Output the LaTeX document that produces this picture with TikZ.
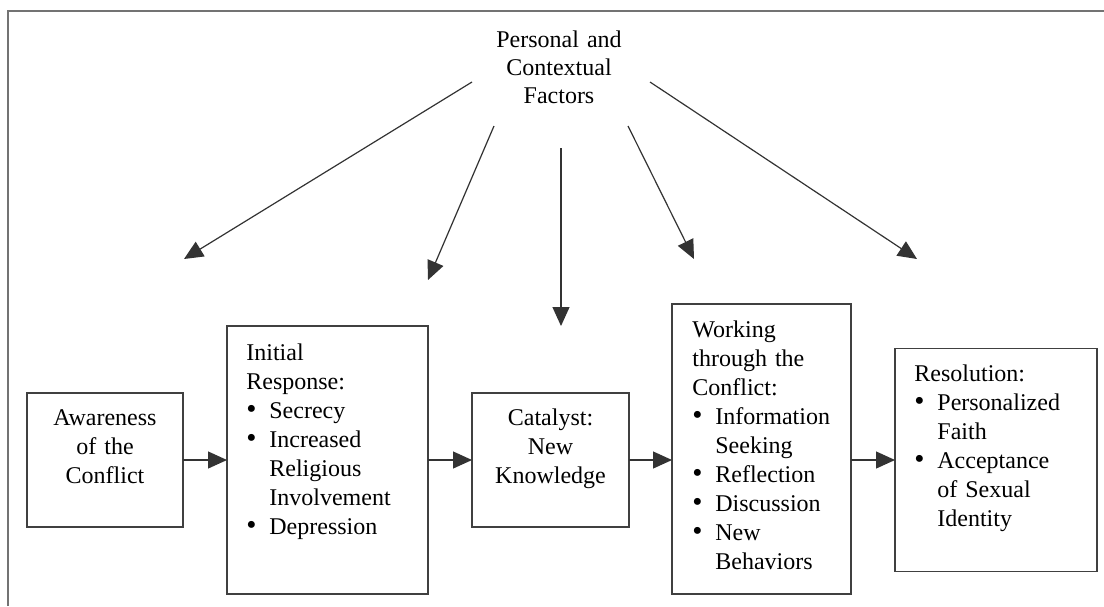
\documentclass[tikz,border=0pt]{standalone}
\usepackage{fontspec}
\setmainfont{Liberation Serif}
\usetikzlibrary{positioning,arrows.meta}

\newcommand{\bul}{\makebox[11.5pt][l]{\fontsize{14.5}{14.5}\selectfont\textbullet}}
\newcommand{\hang}{\hspace*{11.5pt}}

\tikzset{
  stage/.style={draw=black!75, line width=0.75pt, inner sep=0pt, outer sep=0pt},
  stagetext/.style={inner sep=0pt, font=\fontsize{12}{14.5}\selectfont},
  flow/.style={draw=black!80, line width=0.6pt, -{Triangle[length=9.5pt,width=8.5pt]}},
  frame/.style={draw=black!55, line width=1pt}
}

\begin{document}
\begin{tikzpicture}[x=0.5pt, y=-0.5pt]

  \useasboundingbox (0,0) rectangle (1104,606);
  \draw [frame] (8,606) |- (1104,11);

  \node (factors) [stagetext, font=\fontsize{12}{14}\selectfont, text width=80pt,
    align=center, anchor=base] at (559,47) {Personal and\\Contextual\\Factors};

  \node (aware) [stage, minimum width=78pt, minimum height=67pt] at (105,460) {};
  \node (init) [stage, minimum width=100.5pt, minimum height=134pt, right=22pt of aware] {};
  \node (cat) [stage, minimum width=78.5pt, minimum height=67pt, right=22pt of init] {};
  \node (work) [stage, minimum width=89.5pt, minimum height=145pt, right=21.5pt of cat, yshift=5.5pt] {};
  \node (res) [stage, minimum width=101pt, minimum height=111.5pt, right=22pt of work, yshift=-5.5pt] {};

  \node (awaretxt) [stagetext, text width=70pt, align=center, anchor=base]
    at ([yshift=-16pt]aware.north) {Awareness\\of the\\Conflict};
  \node (inittxt) [stagetext, text width=88pt, align=left, anchor=base west]
    at ([shift={(9.5pt,-17pt)}]init.north west)
    {Initial\\Response:\\\bul Secrecy\\\bul Increased\\\hang Religious\\\hang Involvement\\\bul Depression};
  \node (cattxt) [stagetext, text width=70pt, align=center, anchor=base]
    at ([yshift=-16pt]cat.north) {Catalyst:\\New\\Knowledge};
  \node (worktxt) [stagetext, text width=80pt, align=left, anchor=base west]
    at ([shift={(10pt,-16.5pt)}]work.north west)
    {Working\\through the\\Conflict:\\\bul Information\\\hang Seeking\\\bul Reflection\\\bul Discussion\\\bul New\\\hang Behaviors};
  \node (restxt) [stagetext, text width=90pt, align=left, anchor=base west]
    at ([shift={(9.5pt,-16.5pt)}]res.north west)
    {Resolution:\\\bul Personalized\\\hang Faith\\\bul Acceptance\\\hang of Sexual\\\hang Identity};

  % influence of the factors
  \coordinate (f1) at (472,82);
  \coordinate (f2) at (494,126);
  \coordinate (f3) at (561,148);
  \coordinate (f4) at (628,126);
  \coordinate (f5) at (650,82);
  \coordinate (t1) at (184,259);
  \coordinate (t2) at (428,280);
  \coordinate (t3) at (561,326);
  \coordinate (t4) at (694,259);
  \coordinate (t5) at (917,259);

  \draw [flow] (f1) -- (t1);
  \draw [flow] (f2) -- (t2);
  \draw [flow] (f3) -- (t3);
  \draw [flow] (f4) -- (t4);
  \draw [flow] (f5) -- (t5);

  % stages
  \draw [flow] (aware) -- (init);
  \draw [flow] (init) -- (cat);
  \draw [flow] (cat.east) -- (cat.east -| work.west);
  \draw [flow] (res.west -| work.east) -- (res.west);

\end{tikzpicture}
\end{document}
